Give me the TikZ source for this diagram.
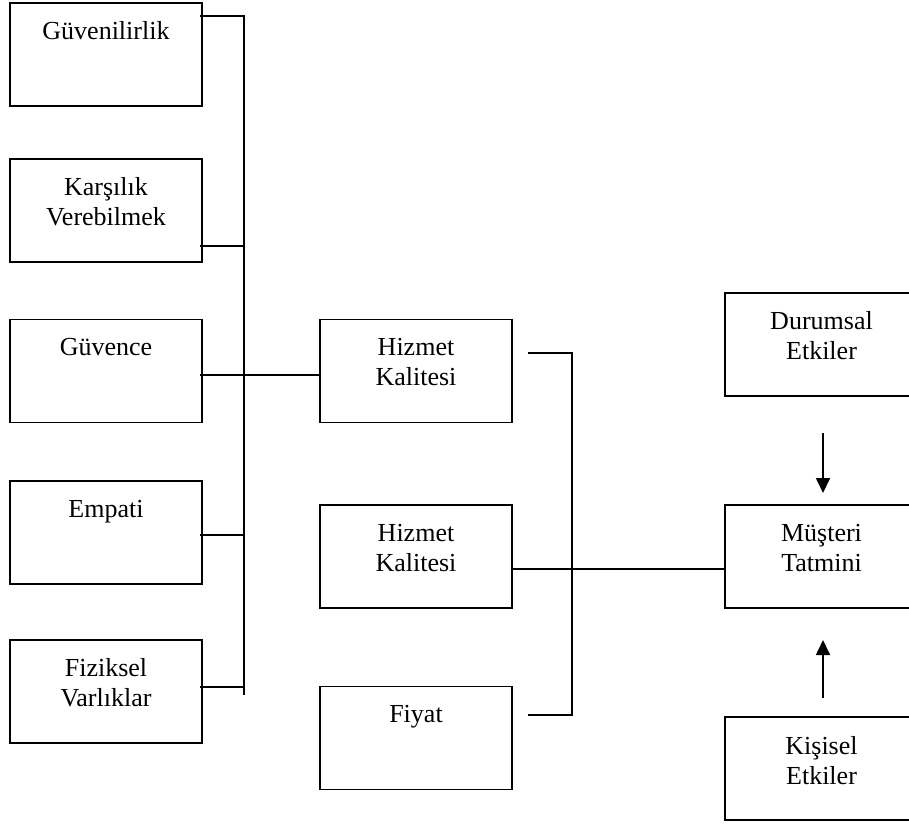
\documentclass[tikz,border=0pt]{standalone}
\usepackage{fontspec}
\setmainfont{Liberation Serif}
\usetikzlibrary{arrows.meta}
\begin{document}
\begin{tikzpicture}[x=1pt,y=-1pt,
  box/.style={draw,rectangle,line width=1.8pt,inner sep=0pt,outer sep=0pt,
    minimum width=192pt,minimum height=103pt},
  wide/.style={box,minimum width=193pt},
  lbl/.style={inner sep=0pt,align=center,anchor=base,
    font=\fontsize{26pt}{30pt}\selectfont},
  link/.style={line width=1.7pt},
  arr/.style={line width=1.7pt,-{Triangle[length=15pt,width=14pt]}}]
\useasboundingbox (0,0) rectangle (909,823);

% service quality dimensions
\node[box] (g1) at (106,54.5) {};
\node[box] (g2) at (106,210.5) {};
\node[box] (g3) at (106,371) {};
\node[box] (g4) at (106,532.5) {};
\node[box] (g5) at (106,691.5) {};
% the base anchor of a two-line label sits on its second line
\node[lbl] (g1t) at ([yshift=-36pt]g1.north) {Güvenilirlik};
\node[lbl] (g2t) at ([yshift=-66pt]g2.north) {Karşılık\\Verebilmek};
\node[lbl] (g3t) at ([yshift=-36pt]g3.north) {Güvence};
\node[lbl] (g4t) at ([yshift=-36pt]g4.north) {Empati};
\node[lbl] (g5t) at ([yshift=-66pt]g5.north) {Fiziksel\\Varlıklar};

% middle column
\node[box] (h1) at (416,371) {};
\node[box] (h2) at (416,556.5) {};
\node[box] (fy) at (416,738) {};
\node[lbl] (h1t) at ([yshift=-66pt]h1.north) {Hizmet\\Kalitesi};
\node[lbl] (h2t) at ([yshift=-66pt]h2.north) {Hizmet\\Kalitesi};
\node[lbl] (fyt) at ([yshift=-36pt]fy.north) {Fiyat};

% right column
\node[wide] (du) at (821.5,344.5) {};
\node[wide] (mt) at (821.5,556.5) {};
\node[wide] (ks) at (821.5,768.5) {};
\node[lbl] (dut) at ([yshift=-66pt]du.north) {Durumsal\\Etkiler};
\node[lbl] (mtt) at ([yshift=-66pt]mt.north) {Müşteri\\Tatmini};
\node[lbl] (kst) at ([yshift=-67pt]ks.north) {Kişisel\\Etkiler};

% left bus joining the five dimensions
\coordinate (bt) at (244,16);
\coordinate (bb) at (244,695);
\coordinate (j2) at (244,246);
\coordinate (j3) at (244,375);
\coordinate (j4) at (244,535);
\coordinate (j5) at (244,687);
\draw[link] ([xshift=-2pt]g1.east |- bt) -- (bt) -- (bb);
\draw[link] ([xshift=-2pt]g2.east |- j2) -- (j2);
\draw[link] ([xshift=-2pt]g3.east |- j3) -- (h1.west |- j3);
\draw[link] ([xshift=-2pt]g4.east |- j4) -- (j4);
\draw[link] ([xshift=-2pt]g5.east |- j5) -- (j5);

% middle bracket to customer satisfaction
\coordinate (m1) at (572,353);
\coordinate (m2) at (572,715);
\coordinate (m3) at (572,569);
\draw[link] ([xshift=16pt]h1.east |- m1) -- (m1) -- (m2) -- ([xshift=16pt]fy.east |- m2);
\draw[link] (h2.east |- m3) -- (mt.west |- m3);

% external influences
\draw[arr] ([xshift=1.5pt,yshift=-37pt]du.south) -- ([xshift=1.5pt,yshift=12pt]mt.north);
\draw[arr] ([xshift=1.5pt,yshift=19pt]ks.north) -- ([xshift=1.5pt,yshift=-32pt]mt.south);
\end{tikzpicture}
\end{document}
